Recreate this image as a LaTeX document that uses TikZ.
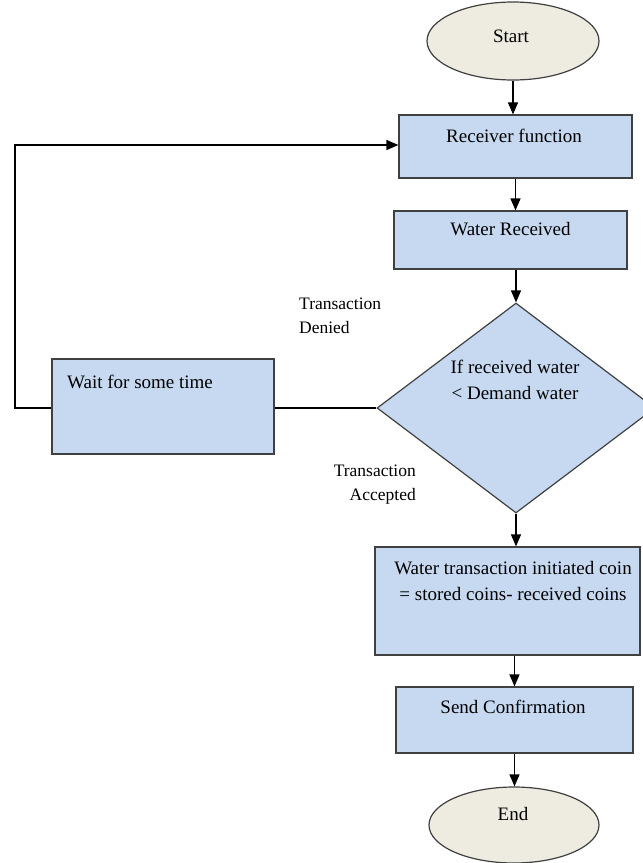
\documentclass[tikz,border=0pt]{standalone}
\usepackage{fontspec}
\setmainfont{Liberation Serif}
\usetikzlibrary{shapes.geometric,arrows.meta}
\definecolor{boxblue}{HTML}{C6D9F1}
\definecolor{ellfill}{HTML}{EEECE1}
\definecolor{edgegray}{HTML}{404040}
\begin{document}
\begin{tikzpicture}[x=1pt,y=-1pt,
  procbox/.style={draw=edgegray, line width=1.2pt, fill=boxblue, rectangle, inner sep=0pt},
  term/.style={draw=edgegray, line width=1.2pt, fill=ellfill, ellipse, inner sep=0pt},
  decision/.style={draw=edgegray, line width=1.2pt, fill=boxblue, diamond, inner sep=0pt},
  txt/.style={font=\fontsize{19}{26}\selectfont, inner sep=0pt, anchor=base},
  lbl/.style={font=\fontsize{17.5}{24}\selectfont, inner sep=0pt},
  conn/.style={draw=black, line width=1.2pt},
  arr/.style={conn, -{Triangle[length=12pt,width=10pt]}}]
\useasboundingbox[fill=white] (0,0) rectangle (643,863);

% shapes
\node[term, minimum width=172pt, minimum height=78pt] (start) at (513,41) {};
\node[procbox, minimum width=233pt, minimum height=63pt] (recv) at (515.5,146.5) {};
\node[procbox, minimum width=233pt, minimum height=58pt] (wrec) at (510.5,240) {};
\node[decision, minimum width=278pt, minimum height=210pt] (cond) at (516,408) {};
\node[procbox, minimum width=222pt, minimum height=95pt] (wait) at (163,406.5) {};
\node[procbox, minimum width=265pt, minimum height=108pt] (calc) at (507.5,601) {};
\node[procbox, minimum width=237pt, minimum height=66pt] (send) at (514.5,720) {};
\node[term, minimum width=170pt, minimum height=76pt] (end) at (514,825) {};

% texts (multi-line nodes: base = baseline of last line)
\node[txt] (tstart) at (511,42) {Start};
\node[txt] (trecv) at (514,142) {Receiver function};
\node[txt] (twrec) at (510.5,235) {Water Received};
\node[txt, align=center] (tcond) at (515,399) {If received water\\< Demand water};
\node[txt, anchor=base west] (twait) at (67,388) {Wait for some time};
\node[txt, align=center] (tcalc) at (513,600) {Water transaction initiated coin\\= stored coins- received coins};
\node[txt] (tsend) at (513,713) {Send Confirmation};
\node[txt] (tend) at (513,820) {End};

\node[lbl, align=left, anchor=base west] (ldenied) at (299,333) {Transaction\\Denied};
\node[lbl, align=right, anchor=base east] (laccepted) at (416,500) {Transaction\\Accepted};

% connectors
\draw[arr] (start.south) -- (start.south |- recv.north);
\draw[arr] (recv.south) -- (recv.south |- wrec.north);
\draw[arr] (wrec.south -| cond.north) -- (cond.north);
\draw[arr] (cond.south) -- (cond.south |- calc.north);
\draw[arr] (send.north |- calc.south) -- (send.north);
\draw[arr] (send.south) -- (send.south |- end.north);
\draw[conn] (cond.west) -- (cond.west -| wait.east);
\coordinate (fb) at (15,145);
\draw[arr] (wait.west |- cond.west) -| (fb) -- (fb -| recv.west);
\end{tikzpicture}
\end{document}
